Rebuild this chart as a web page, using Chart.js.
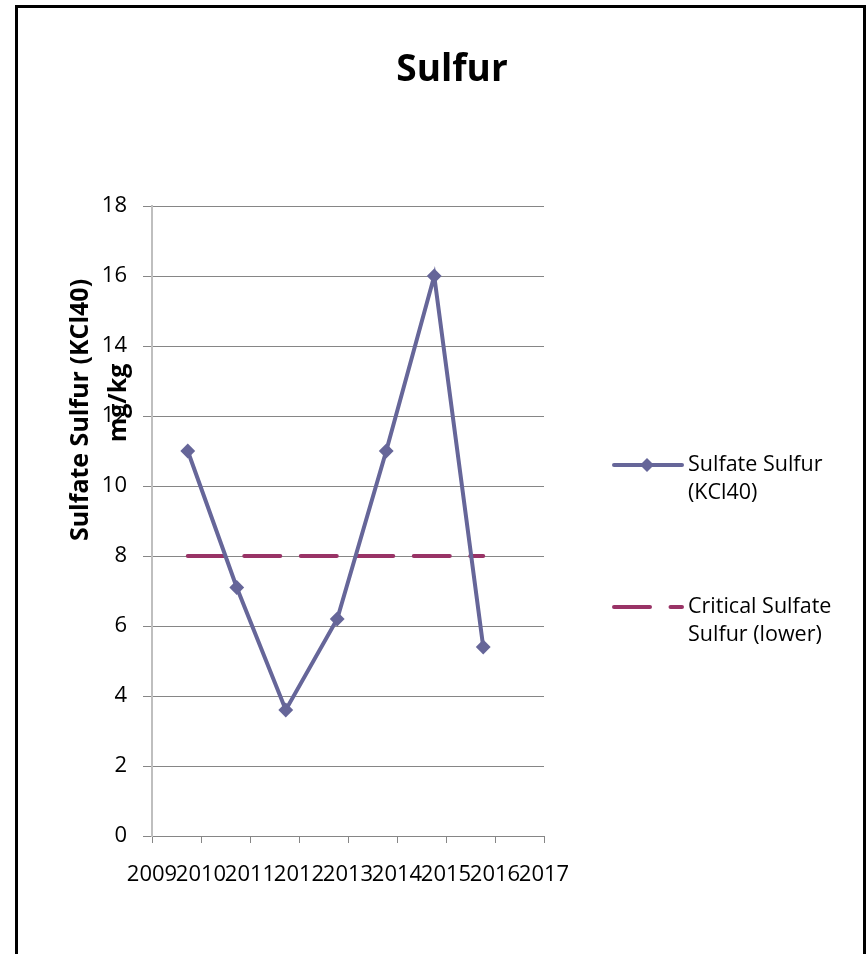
<!DOCTYPE html>
<html>
<head>
<meta charset="utf-8">
<script src="https://cdn.jsdelivr.net/npm/chart.js@4.4.0/dist/chart.umd.min.js"></script>
<style>
  html, body { margin: 0; padding: 0; background: #fff; overflow: hidden; }
  #wrap { width: 868px; height: 954px; }
</style>
</head>
<body>
<div id="wrap"><canvas id="chart" width="868" height="954"></canvas></div>
<script>
// sample dates (fraction of year) and values
const years = [2009.73, 2010.73, 2011.73, 2012.78, 2013.78, 2014.76, 2015.76];
const sulfate = [11, 7.1, 3.6, 6.2, 11, 16, 5.4];
const critical = [8, 8, 8, 8, 8, 8, 8];
const seriesNames = [['Sulfate Sulfur', '(KCl40)'], ['Critical Sulfate', 'Sulfur (lower)']];
const yTitle = ['Sulfate Sulfur (KCl40)', 'mg/kg'];
const chartTitle = 'Sulfur';

const FONT = '"Open Sans", "Liberation Sans", sans-serif';

// frame, title, y title and legend drawn by hand (Excel style)
const decor = {
  id: 'decor',
  afterDraw(chart) {
    const ctx = chart.ctx;
    ctx.save();
    // outer frame
    ctx.strokeStyle = '#000';
    ctx.lineWidth = 3;
    ctx.strokeRect(16.5, 6.5, 848, 1000);

    // title
    ctx.fillStyle = '#000';
    ctx.font = 'bold 37px ' + FONT;
    ctx.textAlign = 'center';
    ctx.textBaseline = 'middle';
    ctx.fillText(chartTitle, 452, 70);

    // y axis title, two lines rotated
    ctx.font = 'bold 25px ' + FONT;
    ctx.save();
    ctx.translate(81, 410);
    ctx.rotate(-Math.PI / 2);
    ctx.fillText(yTitle[0], 0, 0);
    ctx.restore();
    ctx.save();
    ctx.translate(119, 403);
    ctx.rotate(-Math.PI / 2);
    ctx.fillText(yTitle[1], 0, 0);
    ctx.restore();

    // legend
    const ds = chart.data.datasets;
    const rows = [465, 607];
    ctx.font = '21.5px ' + FONT;
    ctx.textAlign = 'left';
    ds.forEach((d, i) => {
      const y = rows[i];
      ctx.strokeStyle = d.borderColor;
      ctx.lineWidth = 4;
      ctx.lineCap = 'round';
      ctx.setLineDash(d.borderDash || []);
      ctx.beginPath();
      ctx.moveTo(614, y);
      ctx.lineTo(682, y);
      ctx.stroke();
      ctx.setLineDash([]);
      if (d.pointRadius > 0) {
        ctx.fillStyle = d.borderColor;
        ctx.beginPath();
        ctx.moveTo(647, y - 7);
        ctx.lineTo(654, y);
        ctx.lineTo(647, y + 7);
        ctx.lineTo(640, y);
        ctx.closePath();
        ctx.fill();
      }
      ctx.fillStyle = '#000';
      ctx.fillText(seriesNames[i][0], 688, y);
      ctx.fillText(seriesNames[i][1], 688, y + 28);
    });
    ctx.restore();
  }
};

new Chart(document.getElementById('chart'), {
  type: 'line',
  data: {
    datasets: [{
      label: seriesNames[0].join(' '),
      data: years.map((x, i) => ({ x: x, y: sulfate[i] })),
      borderColor: '#666699',
      backgroundColor: '#666699',
      borderWidth: 4,
      pointStyle: 'rectRot',
      pointRadius: 6,
      pointBorderWidth: 2,
      tension: 0
    }, {
      label: seriesNames[1].join(' '),
      data: years.map((x, i) => ({ x: x, y: critical[i] })),
      borderColor: '#993366',
      backgroundColor: '#993366',
      borderWidth: 4,
      borderDash: [36, 20.5],
      borderCapStyle: 'round',
      pointRadius: 0,
      tension: 0
    }]
  },
  options: {
    responsive: false,
    animation: false,
    layout: { padding: { left: 92, right: 324, top: 206, bottom: 58 } },
    plugins: {
      legend: { display: false },
      tooltip: { enabled: false },
      title: { display: false }
    },
    scales: {
      x: {
        type: 'linear',
        min: 2009,
        max: 2017,
        afterFit: s => { s.height = 60; },
        ticks: {
          stepSize: 1,
          color: '#000',
          font: { family: FONT, size: 22 },
          padding: 19,
          maxRotation: 0,
          autoSkip: false,
          callback: v => String(v)
        },
        grid: { drawOnChartArea: false, drawTicks: true, tickLength: 7, color: '#868686' },
        border: { color: '#868686', width: 1 }
      },
      y: {
        min: 0,
        max: 18,
        afterFit: s => { s.width = 60; },
        ticks: {
          stepSize: 2,
          color: '#000',
          font: { family: FONT, size: 22 },
          padding: 16
        },
        grid: { color: '#868686', lineWidth: 1, tickLength: 9 },
        border: { color: '#bfbfbf', width: 2 }
      }
    }
  },
  plugins: [decor]
});
</script>
</body>
</html>
